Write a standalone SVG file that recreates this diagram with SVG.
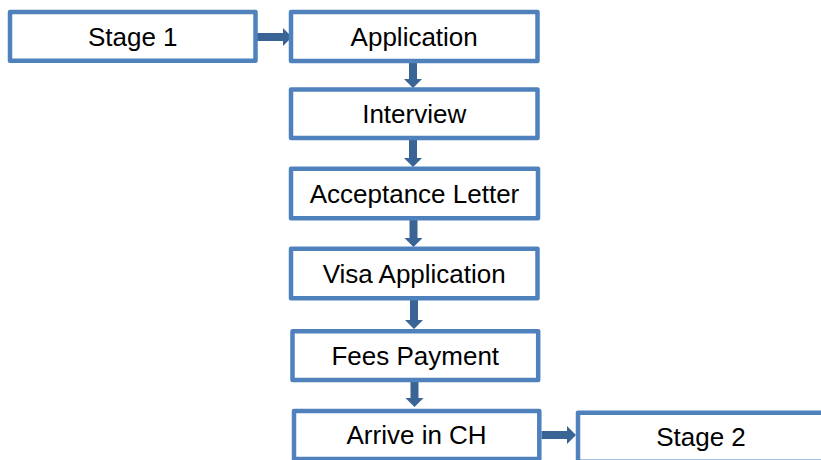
<svg xmlns="http://www.w3.org/2000/svg" width="821" height="460" viewBox="0 0 821 460">
  <style>
    .box { fill: #ffffff; stroke: #4F81BD; stroke-width: 4.5; stroke-linejoin: round; }
    .lbl { font-family: "Liberation Sans", Arial, sans-serif; font-size: 26px; fill: #000000; text-anchor: middle; }
    .arrow { fill: #3B6496; stroke: none; }
  </style>
  <rect width="821" height="460" fill="#ffffff"/>
  <g id="connectors">
    <polygon class="arrow" points="257,33 283,33 283,28 292,37 283,46 283,41 257,41"/>
    <polygon class="arrow" points="409,63 417,63 417,79 422,79 413,88 404,79 409,79"/>
    <polygon class="arrow" points="409,140 417,140 417,158 422,158 413,167 404,158 409,158"/>
    <polygon class="arrow" points="409.5,220 417.5,220 417.5,238 422.5,238 413.5,247 404.5,238 409.5,238"/>
    <polygon class="arrow" points="410,300 418,300 418,320 423,320 414,329 405,320 410,320"/>
    <polygon class="arrow" points="410.5,382 418.5,382 418.5,398 423.5,398 414.5,407 405.5,398 410.5,398"/>
    <polygon class="arrow" points="541.5,431 567,431 567,426 576,435 567,444 567,439 541.5,439"/>
  </g>
  <g id="stage1">
    <rect class="box" x="10" y="12" width="245.5" height="48.8"/>
    <text class="lbl" x="132.75" y="45.7">Stage 1</text>
  </g>
  <g id="application">
    <rect class="box" x="291" y="12" width="246.5" height="49"/>
    <text class="lbl" x="414.2" y="45.8">Application</text>
  </g>
  <g id="interview">
    <rect class="box" x="291" y="89.5" width="246.5" height="48.5"/>
    <text class="lbl" x="414.2" y="123">Interview</text>
  </g>
  <g id="acceptance-letter">
    <rect class="box" x="291" y="168.8" width="247" height="49.5"/>
    <text class="lbl" x="414.5" y="202.8">Acceptance Letter</text>
  </g>
  <g id="visa-application">
    <rect class="box" x="291" y="248.8" width="246.5" height="49.5"/>
    <text class="lbl" x="414.2" y="282.8">Visa Application</text>
  </g>
  <g id="fees-payment">
    <rect class="box" x="292.5" y="331.2" width="245.7" height="48.8"/>
    <text class="lbl" x="415.3" y="364.9">Fees Payment</text>
  </g>
  <g id="arrive-in-ch">
    <rect class="box" x="294" y="411" width="245.3" height="48"/>
    <text class="lbl" x="416.6" y="444.3">Arrive in CH</text>
  </g>
  <g id="stage2">
    <rect class="box" x="578" y="412.8" width="246" height="49"/>
    <text class="lbl" x="701" y="445.5">Stage 2</text>
  </g>
</svg>
